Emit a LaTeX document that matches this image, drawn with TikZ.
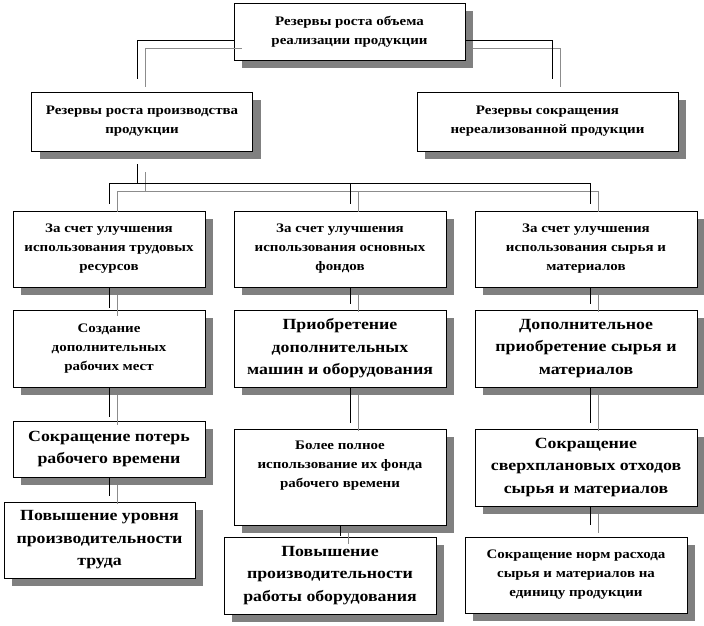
\documentclass[tikz,border=0pt]{standalone}
\usepackage{fontspec}
\setmainfont{Liberation Serif}[FakeStretch=1.15]
\usetikzlibrary{shadows,calc}
\definecolor{shadowgray}{HTML}{808080}
\definecolor{linegray}{HTML}{8C8C8C}
\newcommand\smallt{\fontsize{13}{19}\selectfont\bfseries}
\newcommand\bigt{\fontsize{15.5}{22.5}\selectfont\bfseries}
\newcommand\dconn[2][]{\draw[sconn,#1] #2; \draw[conn,#1] #2;}
\tikzset{
  rbox/.style={draw=black, line width=0.9pt, fill=white, align=center, inner sep=2pt,
    drop shadow={shadow xshift=8pt, shadow yshift=-8pt, fill=shadowgray, opacity=1}},
  sm/.style={font=\smallt},
  bg/.style={font=\bigt},
  conn/.style={draw=black, line width=0.9pt},
  sconn/.style={draw=linegray, line width=0.9pt, transform canvas={xshift=8pt,yshift=-8pt}},
}
\begin{document}
\begin{tikzpicture}[x=1pt,y=-1pt]
\useasboundingbox (0,0) rectangle (704,625);
% boxes
\node[rbox, sm, minimum width=231pt, minimum height=57pt] (top) at (349.5,31.5) {Резервы роста объема\\реализации продукции};
\node[rbox, sm, minimum width=221pt, minimum height=59pt] (l2a) at (142,121.5) {Резервы роста производства\\продукции};
\node[rbox, sm, minimum width=261pt, minimum height=59pt] (l2b) at (547.5,121.5) {Резервы сокращения\\нереализованной продукции};
\node[rbox, sm, minimum width=192pt, minimum height=76pt] (l3a) at (109,249) {За счет улучшения\\использования трудовых\\ресурсов};
\node[rbox, sm, minimum width=212pt, minimum height=76pt] (l3b) at (340,249) {За счет улучшения\\использования основных\\фондов};
\node[rbox, sm, minimum width=222pt, minimum height=76pt] (l3c) at (586,249) {За счет улучшения\\использования сырья и\\материалов};
\node[rbox, sm, minimum width=192pt, minimum height=77pt] (l4a) at (109,348.5) {Создание\\дополнительных\\рабочих мест};
\node[rbox, bg, minimum width=212pt, minimum height=77pt] (l4b) at (340,348.5) {Приобретение\\дополнительных\\машин и оборудования};
\node[rbox, bg, minimum width=222pt, minimum height=77pt] (l4c) at (586,348.5) {Дополнительное\\приобретение сырья и\\материалов};
\node[rbox, bg, minimum width=192pt, minimum height=56pt] (l5a) at (109,449) {Сокращение потерь\\рабочего времени};
\node[rbox, sm, minimum width=212pt, minimum height=96pt] (l5b) at (340,477) {Более полное\\использование их фонда\\рабочего времени\\[6pt]\mbox{}};
\node[rbox, bg, minimum width=222pt, minimum height=77pt] (l5c) at (586,467.5) {Сокращение\\сверхплановых отходов\\сырья и материалов};
\node[rbox, bg, minimum width=191pt, minimum height=76pt] (l6a) at (99.5,540) {Повышение уровня\\производительности\\труда};
\node[rbox, bg, minimum width=212pt, minimum height=77pt] (l6b) at (330,575.5) {Повышение\\производительности\\работы оборудования};
\node[rbox, sm, minimum width=222pt, minimum height=76pt] (l6c) at (576,575) {Сокращение норм расхода\\сырья и материалов на\\единицу продукции};
% connector columns
\coordinate (kA) at (109,0);
\coordinate (kB) at (350,0);
\coordinate (kC) at (590,0);
\coordinate (kD) at (340,0);
\coordinate (kL) at (137,0);
\coordinate (kR) at (552,0);
\coordinate (busY) at (0,183);
% connectors
\dconn[shorten >=13pt]{([yshift=-9pt]top.west) -| (kL |- l2a.north)}
\dconn[shorten >=13pt]{([yshift=-9pt]top.east) -| (kR |- l2b.north)}
\dconn[shorten <=13pt]{(kL |- l2a.south) -- (kL |- busY)}
\dconn[shorten >=7pt, shorten <=7pt]{(kA |- l3a.north) |- (kC |- busY) -- (kC |- l3c.north)}
\dconn[shorten >=7pt]{(kB |- busY) -- (kB |- l3b.north)}
\dconn[shorten >=2pt]{(kA |- l3a.south) -- (kA |- l4a.north)}
\dconn[shorten >=6pt]{(kB |- l3b.south) -- (kB |- l4b.north)}
\dconn[shorten >=6pt]{(kC |- l3c.south) -- (kC |- l4c.north)}
\dconn[shorten >=4pt]{(kA |- l4a.south) -- (kA |- l5a.north)}
\dconn[shorten >=6pt]{(kB |- l4b.south) -- (kB |- l5b.north)}
\dconn[shorten >=6pt]{(kC |- l4c.south) -- (kC |- l5c.north)}
\dconn[shorten >=6pt]{(kA |- l5a.south) -- (kA |- l6a.north)}
\dconn[shorten >=1pt]{(kD |- l5b.south) -- (kD |- l6b.north)}
\dconn[shorten >=12pt]{(kC |- l5c.south) -- (kC |- l6c.north)}
\end{tikzpicture}
\end{document}
